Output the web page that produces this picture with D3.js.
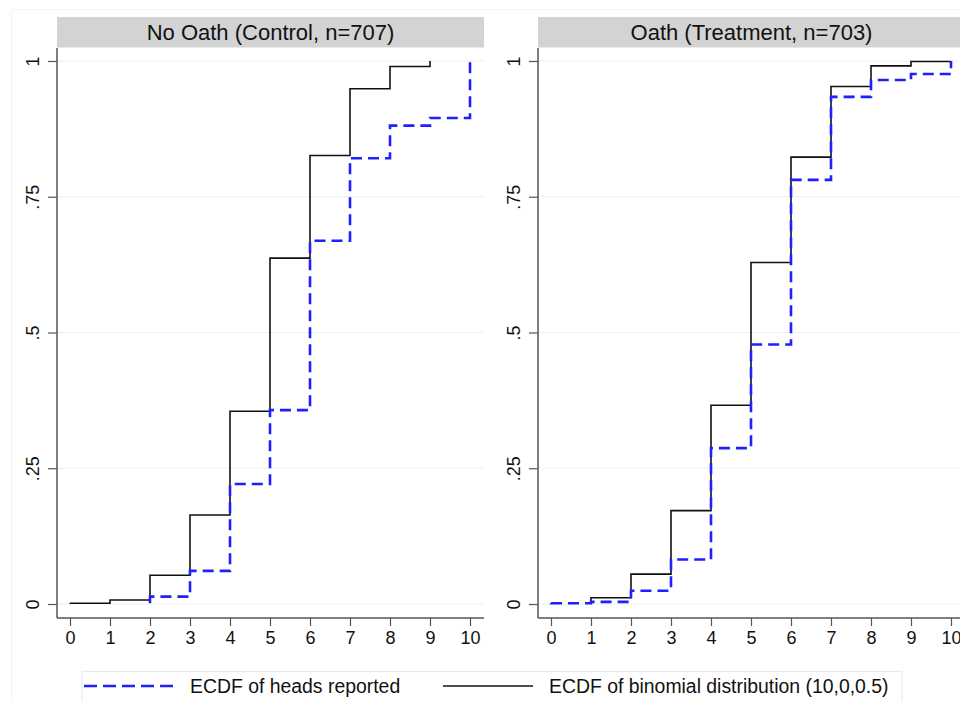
<!DOCTYPE html>
<html>
<head>
<meta charset="utf-8">
<script src="https://cdn.jsdelivr.net/npm/d3@7"></script>
<style>
  html, body { margin: 0; padding: 0; background: #ffffff; }
  svg { display: block; }
  text { font-family: "Liberation Sans", Arial, sans-serif; fill: #111; }
</style>
</head>
<body>
<script>
// ---------------- data ----------------
const panelTitles = ["No Oath (Control, n=707)", "Oath (Treatment, n=703)"];
const panelN = [707, 703];

const xTickValues = [0, 1, 2, 3, 4, 5, 6, 7, 8, 9, 10];
const yTickValues = [0, 0.25, 0.5, 0.75, 1];
const yTickLabels = ["0", ".25", ".5", ".75", "1"];

// Control panel
const controlHeadsX = [2, 3, 4, 5, 6, 7, 8, 9, 10];
const controlHeadsY = [0.0135, 0.061, 0.221, 0.357, 0.669, 0.821, 0.881, 0.895, 1.0];
const controlBinomX = [0, 1, 2, 3, 4, 5, 6, 7, 8, 9];
const controlBinomY = [0.0014, 0.0074, 0.053, 0.164, 0.355, 0.637, 0.826, 0.949, 0.990, 1.0];

// Treatment panel
const treatHeadsX = [0, 1, 2, 3, 4, 5, 6, 7, 8, 9, 10];
const treatHeadsY = [0.0014, 0.004, 0.0245, 0.082, 0.287, 0.478, 0.781, 0.934, 0.965, 0.976, 1.0];
const treatBinomX = [1, 2, 3, 4, 5, 6, 7, 8, 9, 10];
const treatBinomY = [0.0116, 0.055, 0.172, 0.366, 0.629, 0.823, 0.953, 0.991, 0.999, 1.0];

const legendLabels = ["ECDF of heads reported", "ECDF of binomial distribution (10,0,0.5)"];

// ---------------- layout ----------------
const W = 960, H = 701;
const svg = d3.select("body").append("svg").attr("width", W).attr("height", H);

// faint outer frame
svg.append("rect").attr("x", 11.5).attr("y", 9.5).attr("width", 980).attr("height", 720)
  .attr("fill", "none").attr("stroke", "#f1f3f4").attr("stroke-width", 1);

const panels = [
  { left: 57, right: 484, title: panelTitles[0], n: panelN[0],
    heads: { x: controlHeadsX, y: controlHeadsY }, binom: { x: controlBinomX, y: controlBinomY } },
  { left: 538, right: 965, title: panelTitles[1], n: panelN[1],
    heads: { x: treatHeadsX, y: treatHeadsY }, binom: { x: treatBinomX, y: treatBinomY } }
];

const stripTop = 17, stripBottom = 47.5;
const plotTop = 48, axisY = 618;
const y = d3.scaleLinear().domain([0, 1]).range([604, 61]);

const blue = "#1f1fff";

panels.forEach(p => {
  const x = d3.scaleLinear().domain([-0.325, 10.35]).range([p.left, p.right]);
  const g = svg.append("g");

  // strip
  g.append("rect").attr("x", p.left).attr("y", stripTop)
    .attr("width", p.right - p.left).attr("height", stripBottom - stripTop)
    .attr("fill", "#d3d3d3");
  g.append("text").attr("x", (p.left + p.right) / 2).attr("y", 40)
    .attr("text-anchor", "middle").attr("font-size", 22).text(p.title);

  // grid
  g.selectAll(".grid").data(yTickValues).enter().append("line")
    .attr("x1", p.left).attr("x2", p.right)
    .attr("y1", d => y(d)).attr("y2", d => y(d))
    .attr("stroke", "#eaf1f3").attr("stroke-width", 1.2);

  // y axis
  const yAxis = d3.axisLeft(y).tickValues(yTickValues).tickSize(9)
    .tickFormat((d, i) => yTickLabels[i]);
  const ya = g.append("g").attr("transform", `translate(${p.left},0)`).call(yAxis);
  ya.select(".domain").remove();
  ya.selectAll(".tick line").attr("stroke", "#555").attr("stroke-width", 1.2);
  ya.selectAll(".tick text").attr("font-size", 18).attr("fill", "#111")
    .attr("font-family", "Liberation Sans, Arial, sans-serif")
    .attr("text-anchor", "middle").attr("x", null).attr("y", 0).attr("dy", "0.35em")
    .attr("transform", "translate(-24,0) rotate(-90)");
  g.append("line").attr("x1", p.left).attr("x2", p.left).attr("y1", plotTop).attr("y2", axisY)
    .attr("stroke", "#555").attr("stroke-width", 1.5);

  // x axis
  const xAxis = d3.axisBottom(x).tickValues(xTickValues).tickSize(8).tickFormat(d3.format("d"));
  const xa = g.append("g").attr("transform", `translate(0,${axisY})`).call(xAxis);
  xa.select(".domain").remove();
  xa.selectAll(".tick line").attr("stroke", "#555").attr("stroke-width", 1.2);
  xa.selectAll(".tick text").attr("font-size", 18).attr("fill", "#111")
    .attr("font-family", "Liberation Sans, Arial, sans-serif").attr("y", 12).attr("dy", "0.8em");
  g.append("line").attr("x1", p.left).attr("x2", p.right).attr("y1", axisY).attr("y2", axisY)
    .attr("stroke", "#555").attr("stroke-width", 1.5);

  const line = d3.line().x(d => x(d[0])).y(d => y(d[1])).curve(d3.curveStepAfter);
  const pts = s => [[s.x[0], 1 / p.n]].concat(s.x.map((v, i) => [v, s.y[i]]));

  // binomial (black solid)
  g.append("path").attr("d", line(pts(p.binom))).attr("fill", "none")
    .attr("stroke", "#111").attr("stroke-width", 1.6);
  // heads (blue dashed)
  g.append("path").attr("d", line(pts(p.heads))).attr("fill", "none")
    .attr("stroke", blue).attr("stroke-width", 2.6).attr("stroke-dasharray", "11,6");
});

// ---------------- legend ----------------
const lg = svg.append("g");
lg.append("rect").attr("x", 82).attr("y", 671.5).attr("width", 820).attr("height", 40)
  .attr("fill", "#fff").attr("stroke", "#e4ecef").attr("stroke-width", 1.2);
lg.append("line").attr("x1", 84).attr("x2", 174).attr("y1", 686).attr("y2", 686)
  .attr("stroke", blue).attr("stroke-width", 2.6).attr("stroke-dasharray", "13,6");
lg.append("text").attr("x", 190).attr("y", 693).attr("font-size", 19.4).text(legendLabels[0]);
lg.append("line").attr("x1", 443).attr("x2", 533).attr("y1", 686).attr("y2", 686)
  .attr("stroke", "#111").attr("stroke-width", 1.6);
lg.append("text").attr("x", 549).attr("y", 693).attr("font-size", 19.4).text(legendLabels[1]);
</script>
</body>
</html>
